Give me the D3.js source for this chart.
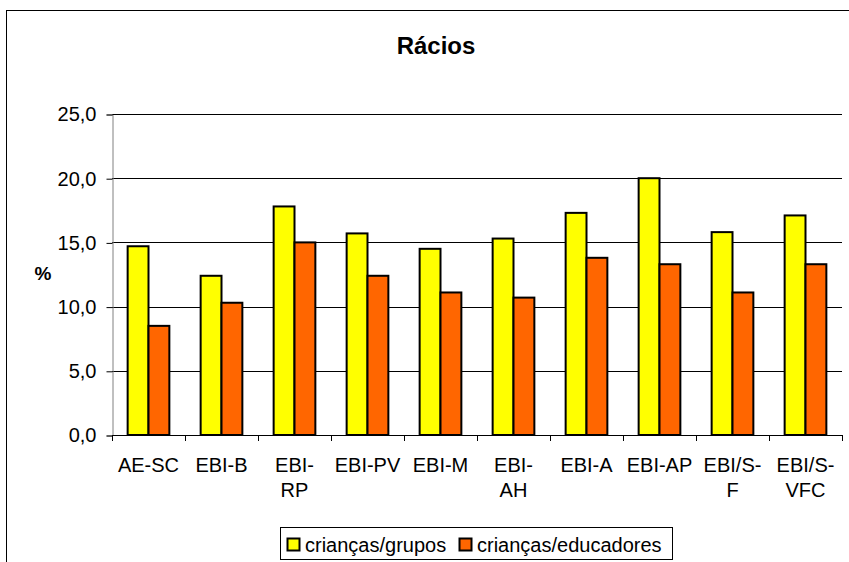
<!DOCTYPE html>
<html>
<head>
<meta charset="utf-8">
<script src="https://cdn.jsdelivr.net/npm/d3@7"></script>
<style>
  body { margin: 0; background: #fff; }
  svg { display: block; font-family: "Liberation Sans", Arial, sans-serif; }
</style>
</head>
<body>
<svg id="chart" width="849" height="562"></svg>
<script>
// Category labels (each entry = lines of the label)
const categories = ["AE-SC", "EBI-B", "EBI-RP", "EBI-PV", "EBI-M", "EBI-AH", "EBI-A", "EBI-AP", "EBI/S-F", "EBI/S-VFC"];
const categoryLines = [["AE-SC"], ["EBI-B"], ["EBI-", "RP"], ["EBI-PV"], ["EBI-M"], ["EBI-", "AH"], ["EBI-A"], ["EBI-AP"], ["EBI/S-", "F"], ["EBI/S-", "VFC"]];
const seriesNames = ["crianças/grupos", "crianças/educadores"];
const criancasGrupos = [14.7, 12.4, 17.8, 15.7, 14.5, 15.3, 17.3, 20.0, 15.8, 17.1];
const criancasEducadores = [8.5, 10.3, 15.0, 12.4, 11.1, 10.7, 13.8, 13.3, 11.1, 13.3];
const yTicks = [0, 5, 10, 15, 20, 25];
const colors = ["#ffff00", "#ff6600"];

const svg = d3.select("#chart");

// Outer chart frame
svg.append("rect")
  .attr("x", 6.5).attr("y", 10.5)
  .attr("width", 900).attr("height", 600)
  .attr("fill", "none").attr("stroke", "#000").attr("stroke-width", 1);

const plot = { left: 112, right: 842, top: 114, bottom: 435 };

const x = d3.scaleBand().domain(categories).range([plot.left, plot.right]).paddingInner(0).paddingOuter(0);
const barW = x.bandwidth() / 3.5;
const y = d3.scaleLinear().domain([0, 25]).range([plot.bottom, plot.top]);

// Horizontal gridlines
svg.append("g").selectAll("line").data(yTicks.filter(d => d > 0)).join("line")
  .attr("x1", plot.left).attr("x2", plot.right)
  .attr("y1", d => Math.round(y(d)) + 0.5).attr("y2", d => Math.round(y(d)) + 0.5)
  .attr("stroke", "#000").attr("stroke-width", 1);

// Y axis
const fmt = d => d3.format(".1f")(d).replace(".", ",");
const yAxis = svg.append("g")
  .attr("transform", `translate(${plot.left + 0.5},0.5)`)
  .call(d3.axisLeft(y).tickValues(yTicks).tickFormat(fmt).tickSize(6).tickPadding(10));
yAxis.select(".domain").attr("stroke", "#808080");
yAxis.selectAll(".tick line").attr("stroke", "#000");
yAxis.selectAll("text").attr("font-size", 20).attr("fill", "#000")
  .attr("font-family", "Liberation Sans, Arial, sans-serif");

// Bars
const series = [criancasGrupos, criancasEducadores];
series.forEach((vals, si) => {
  svg.append("g").selectAll("rect").data(vals).join("rect")
    .attr("x", (d, i) => x(categories[i]) + barW * 0.75 + si * barW)
    .attr("y", d => y(d))
    .attr("width", barW)
    .attr("height", d => y(0) - y(d))
    .attr("fill", colors[si])
    .attr("stroke", "#000").attr("stroke-width", 2);
});

// X axis
const xAxis = svg.append("g")
  .attr("transform", `translate(0.5,${plot.bottom + 0.5})`)
  .call(d3.axisBottom(x).tickSize(0).tickFormat(""));
xAxis.select(".domain").attr("stroke", "#000").attr("d", `M${plot.left},0H${plot.right}`);
// category separator ticks
svg.append("g").selectAll("line").data(d3.range(categories.length + 1)).join("line")
  .attr("x1", i => Math.round(plot.left + i * x.bandwidth()) + 0.5)
  .attr("x2", i => Math.round(plot.left + i * x.bandwidth()) + 0.5)
  .attr("y1", plot.bottom).attr("y2", plot.bottom + 6)
  .attr("stroke", "#000");

// Category labels
const labels = svg.append("g").attr("font-size", 20).attr("text-anchor", "middle");
categories.forEach((c, i) => {
  const t = labels.append("text")
    .attr("x", x(c) + x.bandwidth() / 2)
    .attr("y", 471.5);
  categoryLines[i].forEach((ln, k) => {
    t.append("tspan").attr("x", x(c) + x.bandwidth() / 2).attr("dy", k === 0 ? 0 : 25).text(ln);
  });
});

// Title and axis name
svg.append("text").attr("x", 436).attr("y", 53.5).attr("text-anchor", "middle")
  .attr("font-size", 24).attr("font-weight", "bold").text("Rácios");
svg.append("text").attr("x", 43).attr("y", 279.5).attr("text-anchor", "middle")
  .attr("font-size", 19).attr("font-weight", "bold").text("%");

// Legend
const lg = svg.append("g");
lg.append("rect").attr("x", 280.5).attr("y", 527.5).attr("width", 392).attr("height", 32)
  .attr("fill", "#fff").attr("stroke", "#000");
const legendX = [287, 459];
seriesNames.forEach((n, i) => {
  lg.append("rect").attr("x", legendX[i] + 0.5).attr("y", 538.5).attr("width", 12).attr("height", 12)
    .attr("fill", colors[i]).attr("stroke", "#000").attr("stroke-width", 2);
  lg.append("text").attr("x", legendX[i] + 18).attr("y", 551.5)
    .attr("font-size", 20).text(n);
});
</script>
</body>
</html>
